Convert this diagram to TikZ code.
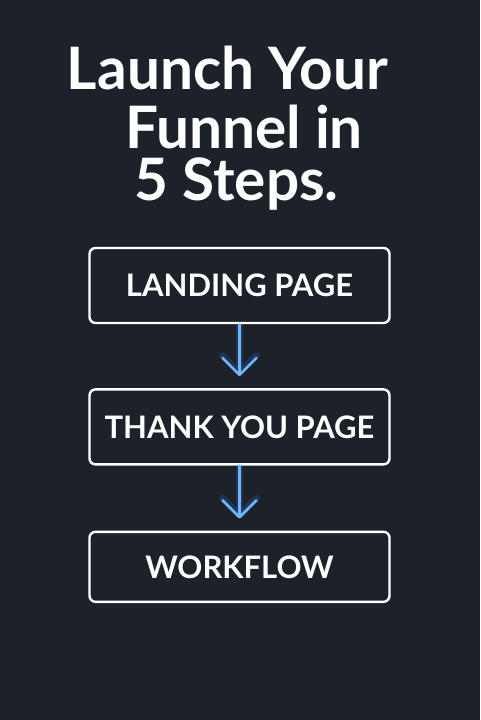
\documentclass[tikz,border=0pt]{standalone}
\usepackage{fontspec}
\setmainfont{Lato}
\usepackage{tikz}
\usepackage{xcolor}
\usetikzlibrary{positioning,arrows.meta}
\definecolor{bgdark}{HTML}{1C212A}
\definecolor{flowblue}{HTML}{72B6FF}
\definecolor{glowblue}{HTML}{2F80E8}

\begin{document}
\begin{tikzpicture}[x=1pt, y=-1pt, thick,
    stepbox/.style={draw=white, line width=2.4pt, rounded corners=6pt, fill=bgdark,
        minimum width=300pt, minimum height=75pt, inner sep=0pt, text=white,
        font=\fontsize{31}{33}\selectfont\bfseries},
    titleline/.style={anchor=base, text=white, inner sep=0pt, text height=42pt,
        text depth=0pt, font=\fontsize{58.5}{62}\selectfont\bfseries},
    flow/.style={draw=flowblue, line width=2.6pt, shorten >=12pt, line cap=round,
        line join=round, -{Straight Barb[length=17pt, width=34pt, round]},
        preaction={draw=glowblue, line width=7pt, opacity=0.2}}]
    % Background
    \fill[bgdark] (0,0) rectangle (480,720);
    \useasboundingbox (0,0) rectangle (480,720);
    % Title
    \node[titleline] (title1) at (227.5,89) {Launch Your};
    \node[titleline] (title2) at (244,148) {Funnel in};
    \node[titleline] (title3) at (236.5,200) {5 Steps.};
    % Steps
    \node[stepbox] (land) at (239.5,285.5) {LANDING PAGE};
    \node[stepbox, below=64pt of land] (thank) {THANK YOU PAGE};
    \node[stepbox, below=65pt of thank, minimum height=70pt] (work) {WORKFLOW};
    % Arrows
    \draw[flow] (land.south) -- (thank.north);
    \draw[flow] (thank.south) -- (work.north);
\end{tikzpicture}
\end{document}
